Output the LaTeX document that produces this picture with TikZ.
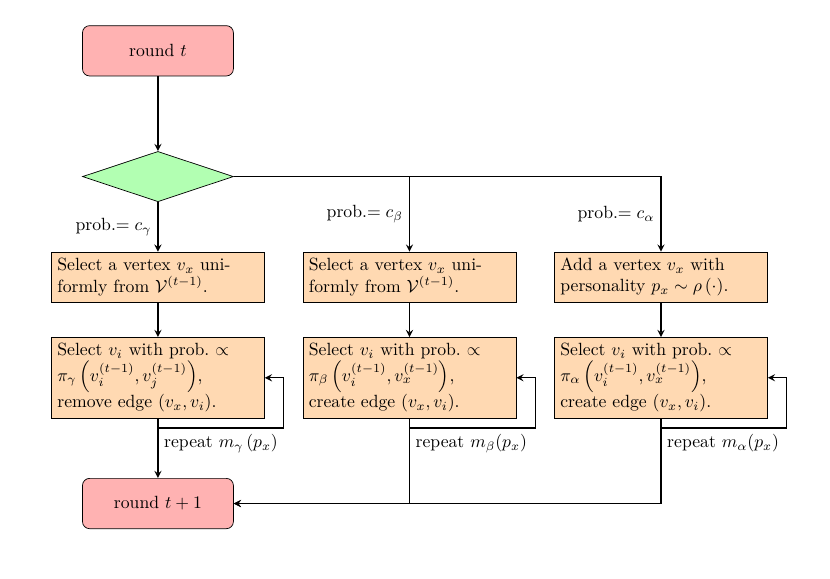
\documentclass[tikz,border=0pt]{standalone}
\usepackage{amsmath}
\usepackage{amssymb}
\usepackage{tikz}
\usetikzlibrary{shapes.geometric,arrows.meta,positioning}

\begin{document}
\begin{tikzpicture}[
  startstop/.style={rectangle,rounded corners,minimum width=3cm,minimum height=1cm,
                    align=center,draw=black,fill=red!30},
  decision/.style={diamond,minimum width=3cm,minimum height=1cm,draw=black,fill=green!30},
  process/.style={rectangle,minimum width=3cm,minimum height=1cm,text width=4cm,
                  align=left,draw=black,fill=orange!30},
  arrow/.style={thick,->,>=stealth}]
\useasboundingbox (-3.14,1.01) rectangle (13.36,-10.5);

\node[startstop] (s) at (0,0) {round $t$};
\node[decision] (d) at (0,-2.5) {};

\node[process] (g1) at (0,-4.5)  {Select a vertex $v_x$ uniformly from $\mathcal{V}^{(t-1)}$.};
\node[process] (b1) at (5,-4.5)  {Select a vertex $v_x$ uniformly from $\mathcal{V}^{(t-1)}$.};
\node[process] (a1) at (10,-4.5) {Add a vertex $v_x$ with personality $p_x\sim\rho\left(\cdot\right)$.};

\node[process] (g2) at (0,-6.5)  {Select $v_i$ with prob.\ $\propto$\\ $\pi_\gamma\left(v_i^{(t-1)},v_j^{(t-1)}\right)$,\\ remove edge $(v_x,v_i)$.};
\node[process] (b2) at (5,-6.5)  {Select $v_i$ with prob.\ $\propto$\\ $\pi_\beta\left(v_i^{(t-1)},v_x^{(t-1)}\right)$,\\ create edge $(v_x,v_i)$.};
\node[process] (a2) at (10,-6.5) {Select $v_i$ with prob.\ $\propto$\\ $\pi_\alpha\left(v_i^{(t-1)},v_x^{(t-1)}\right)$,\\ create edge $(v_x,v_i)$.};

\node[startstop] (e) at (0,-9) {round $t+1$};

% loop corners
\coordinate (gc) at (0,-7.5);  \coordinate (gl) at (2.5,-7.5);
\coordinate (bc) at (5,-7.5);  \coordinate (bl) at (7.5,-7.5);
\coordinate (ac) at (10,-7.5); \coordinate (al) at (12.5,-7.5);

\node[anchor=north west] (gr) at (gc) {repeat $m_\gamma\left(p_x\right)$};
\node[anchor=north west] (br) at (bc) {repeat $m_\beta(p_x)$};
\node[anchor=north west] (ar) at (ac) {repeat $m_\alpha(p_x)$};

\draw[arrow] (s) -- (d);
\draw[arrow] (d) -- node[left] {prob.$=c_\gamma$} (g1);
\draw[arrow] (d) -| node[pos=0.75,left] {prob.$=c_\beta$} (b1);
\draw[arrow] (d) -| node[pos=0.75,left] {prob.$=c_\alpha$} (a1);

\draw[arrow] (g1) -- (g2);
\draw[arrow] (b1) -- (b2);
\draw[arrow] (a1) -- (a2);

\draw[thick] (g2) -- (gc);
\draw[thick] (b2) -- (bc);
\draw[thick] (a2) -- (ac);
\draw[arrow] (gc) -- (gl) |- (g2.east);
\draw[arrow] (bc) -- (bl) |- (b2.east);
\draw[arrow] (ac) -- (al) |- (a2.east);

\draw[arrow] (gc) -- (e);
\draw[arrow] (bc) |- (e);
\draw[arrow] (ac) |- (e);
\end{tikzpicture}
\end{document}
